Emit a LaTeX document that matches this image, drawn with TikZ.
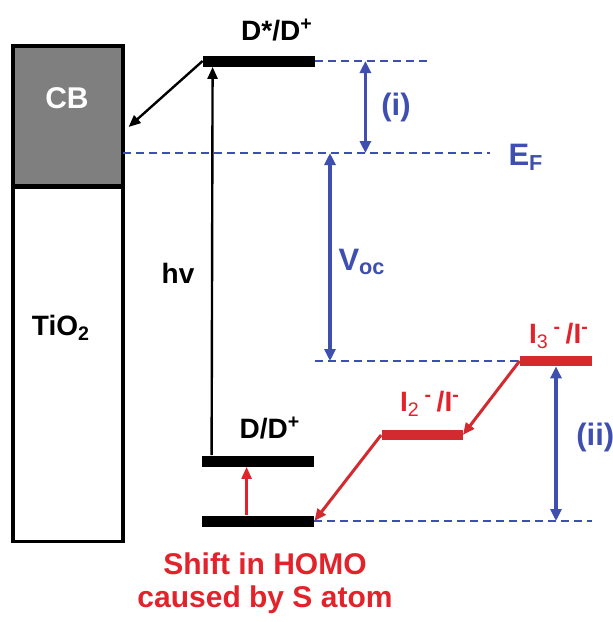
\documentclass[tikz,border=0pt]{standalone}
\usepackage{fontspec}
\setmainfont{Liberation Sans}
\usetikzlibrary{arrows.meta,positioning,calc}
\definecolor{lvlblue}{HTML}{3F4FB0}
\definecolor{lvlred}{HTML}{E3232B}
\definecolor{barred}{HTML}{D22A2F}
\definecolor{cbgray}{HTML}{7F7F7F}
\tikzset{
  cbbox/.style={draw=black, line width=1.6pt, fill=cbgray, minimum width=55pt,
                minimum height=70pt, inner sep=0pt},
  oxbox/.style={draw=black, line width=1.6pt, fill=white, minimum width=55pt,
                minimum height=177pt, inner sep=0pt},
  bar/.style={fill=black, minimum width=56pt, minimum height=5.5pt, inner sep=0pt},
  redbar/.style={fill=barred, minimum height=5pt, inner sep=0pt},
  level/.style={draw=lvlblue, line width=1.2pt, dash pattern=on 4pt off 2.5pt},
  gap/.style={<->, >={Triangle[length=6pt,width=5.5pt]}, draw=lvlblue, line width=1.6pt},
  excite/.style={->, >={Triangle[length=6pt,width=5pt]}, draw=black, line width=1.2pt},
  shiftup/.style={->, >={Triangle[length=6pt,width=5pt]}, draw=lvlred, line width=1.2pt},
  redox/.style={->, >={Triangle[length=6pt,width=5pt]}, draw=barred, line width=1.5pt},
  lbl/.style={font=\bfseries\fontsize{14}{16}\selectfont, inner sep=1pt},
  blbl/.style={font=\bfseries\fontsize{15.5}{18}\selectfont, text=lvlblue, inner sep=1pt},
  rlbl/.style={font=\bfseries\fontsize{14}{16}\selectfont, text=lvlred, inner sep=1pt}
}
\begin{document}
\begin{tikzpicture}[x=0.5pt, y=-0.5pt]
  \useasboundingbox (0,0) rectangle (612,622);

  %% TiO2 electrode
  \node[cbbox] (cb) at (68,116) {};
  \node[oxbox, below=-0.8pt of cb] (ox) {};
  \node[lbl, text=white, font=\bfseries\fontsize{15}{16}\selectfont] (cbtxt) at (67,98) {CB};
  \node[lbl] (oxtxt) at (61,328) {TiO\textsubscript{2}};

  %% dye levels
  \node[bar] (dstar) at (259,61) {};
  \node[bar] (dgs) at (258,461) {};
  \node[bar] (homo) at (258,521) {};
  \node[lbl] (dstartxt) at (277,30) {D*/D\textsuperscript{+}};
  \node[lbl] (dgstxt) at (270,428) {D/D\textsuperscript{+}};

  %% electrolyte levels
  \node[redbar, minimum width=36pt] (ithree) at (556,361) {};
  \node[redbar, minimum width=40.5pt] (itwo) at (422,435) {};
  \node[rlbl] (ithreetxt) at (559,336) {I\textsubscript{\mdseries 3}\,\textsuperscript{-}\,/I\textsuperscript{-}};
  \node[rlbl] (itwotxt) at (430,404) {I\textsubscript{\mdseries 2}\,\textsuperscript{-}\,/I\textsuperscript{-}};

  %% dashed reference lines
  \coordinate (dstarR) at (427,61);
  \coordinate (efL) at (123,153);
  \coordinate (efR) at (490,153);
  \coordinate (ithreeL) at (315,361);
  \coordinate (homoR) at (592,521);
  \draw[level] (dstar.east) -- (dstarR);
  \draw[level] (efL) -- (efR);
  \draw[level] (ithreeL) -- (ithree.west);
  \draw[level] (homo.east) -- (homoR);

  %% energy gaps
  \draw[gap] ($(dstar.east)+(50,0)$) -- ($(dstar.east |- efR)+(50,0)$);
  \draw[gap] ($(ithreeL |- efR)+(15,0)$) -- ($(ithreeL)+(15,0)$);
  \draw[gap] (ithree.south) -- (ithree.south |- homoR);
  \node[blbl] (gapi) at (396,107) {(i)};
  \node[blbl] (eftxt) at (526,157) {E\textsubscript{F}};
  \node[blbl] (voc) at (362,262) {V\textsubscript{oc}};
  \node[blbl, anchor=west] (gapii) at (574,437) {(ii)};

  %% transitions
  \draw[excite] ($(dgs.north west)+(10,0)$) -- ($(dstar.south west)+(10,0)$);
  \node[lbl] (hv) at (178,273) {hv};
  \draw[excite] (dstar.west) -- ($(cb.east)+(4,11)$);
  \draw[shiftup] ($(homo.north west)+(45,0)$) -- ($(dgs.south west)+(45,0)$);
  \draw[redox] (ithree.west) -- (itwo.east);
  \draw[redox] (itwo.west) -- (homo.east);

  \node[rlbl, align=center, font=\bfseries\fontsize{15}{16.5}\selectfont] (note) at (265,583)
       {Shift in HOMO\\caused by S atom};
\end{tikzpicture}
\end{document}
